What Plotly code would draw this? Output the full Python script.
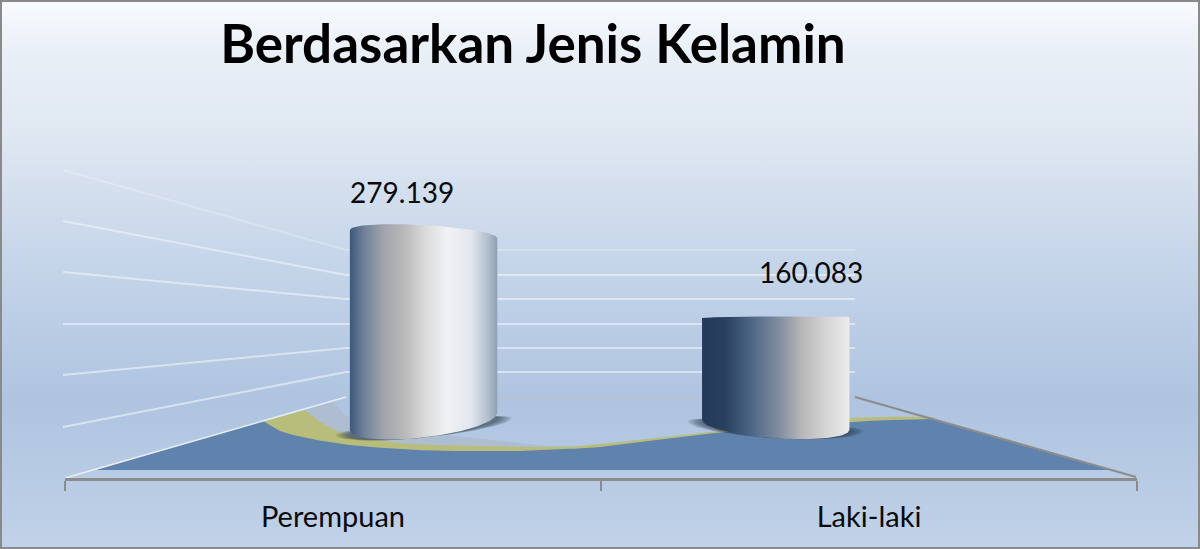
import numpy as np
import plotly.graph_objects as go

# data
categories = ['Perempuan', 'Laki-laki']
values = [279139, 160083]

# cylinder placement, axis units (perspective pulls them off the category centre)
cyl_pos = [0.169, 0.826]
label_pos = [0.129, 0.892]
cyl_width = 0.275

# px offsets of each cylinder outline: base shift, base depth, base skew, top depth, top skew
cyl_outline = [(0, 16, -8.5, 9, 4), (3.5, 13.3, 5, 1, -0.5)]
shadow_drop = [5, 1]
cyl_colors = [
    [[0, '#3d587b'], [0.09, '#6d7f98'], [0.22, '#9ea2aa'], [0.38, '#bbbbbb'], [0.5, '#d8d8d8'],
     [0.66, '#f1f2f4'], [0.82, '#e2e7ed'], [0.93, '#b5c1d0'], [1, '#8e9fb4']],
    [[0, '#253a5a'], [0.16, '#2a4060'], [0.34, '#4f6786'], [0.53, '#838fa0'], [0.68, '#b8b8b8'],
     [0.86, '#d8d8d8'], [1, '#ececec']],
]

# background wall / floor lines, px
wall_left_y = [170, 221, 272, 324, 375, 427]
wall_back_y = [250, 275, 299, 324, 348, 372]

gray_edge = [(333, 401), (340, 410), (350, 417), (400, 430), (467, 437), (517, 443), (550, 446), (600, 446)]
yellow_edge = [(305, 410), (317, 420), (333, 429), (350, 436), (367, 439), (400, 443), (433, 445),
               (483, 446), (550, 447), (600, 444), (715, 431), (851, 418), (933, 417)]
blue_edge = [(263, 421), (283, 432), (317, 440), (350, 445), (383, 448), (417, 450), (450, 451),
             (517, 451), (550, 449), (600, 447), (715, 433), (851, 422), (933, 419)]

bg_colors = [[0, '#f8fbfe'], [0.1, '#e9eff7'], [0.25, '#dfe7f2'], [0.45, '#c8d7ea'], [0.73, '#aec4e0'],
             [1, '#c1d2e8']]

PX = 279139 / 187.5  # value units per pixel
ZERO_PX = 421.5
AXIS_PX = 478
X0, X1 = 65, 1137


def smooth(points, n=12):
    # catmull-rom through the points
    p = np.array([points[0]] + list(points) + [points[-1]], dtype=float)
    out = []
    for i in range(1, len(p) - 2):
        for t in np.linspace(0, 1, n, endpoint=False):
            out.append(0.5 * (2 * p[i] + (p[i + 1] - p[i - 1]) * t
                              + (2 * p[i - 1] - 5 * p[i] + 4 * p[i + 1] - p[i + 2]) * t ** 2
                              + (3 * p[i] - p[i - 1] - 3 * p[i + 1] + p[i + 2]) * t ** 3))
    out.append(p[-2])
    return [tuple(q) for q in out]


def poly(points, color):
    xs, ys = zip(*points)
    return go.Scatter(x=xs, y=ys, mode='lines', fill='toself', fillcolor=color,
                      line=dict(width=0), xaxis='x', yaxis='y', hoverinfo='skip', showlegend=False)


def line(x, y, color, width):
    return go.Scatter(x=x, y=y, mode='lines', line=dict(color=color, width=width),
                      xaxis='x', yaxis='y', hoverinfo='skip', showlegend=False)


def cylinder(pos, value, outline):
    # outline in axis units, front edge bulges down, back edge up
    shift, base_d, base_s, top_d, top_s = outline
    t = np.linspace(-1, 1, 80)
    arc = np.sqrt(1 - t ** 2)
    top = value + (-shift - top_s * t + top_d * arc) * PX
    base = (-shift - base_s * t - base_d * arc) * PX
    x = pos + t * cyl_width / 2
    return np.r_[x, x[::-1], x[0]], np.r_[top, base[::-1], top[0]]


def base_shadow(pos, outline, drop, grow):
    # flat ellipse under the foot of a cylinder
    shift, base_d, base_s = outline[:3]
    t = np.linspace(-1, 1, 80)
    arc = np.sqrt(1 - t ** 2)
    mid = -shift - drop - base_s * t
    x = pos + t * cyl_width / 2 * (1 + grow)
    return np.r_[x, x[::-1], x[0]], np.r_[(mid + 6 * arc) * PX, ((mid - (base_d - drop) * arc) * PX)[::-1], (mid[0]) * PX]


fig = go.Figure()

# background
fig.add_trace(go.Scatter(x=[0, 1200, 1200, 0, 0], y=[0, 0, 549, 549, 0], mode='lines', fill='toself',
                         fillgradient=dict(type='vertical', colorscale=bg_colors, start=0, stop=549),
                         line=dict(width=0), xaxis='x', yaxis='y', hoverinfo='skip', showlegend=False))

# walls
for i, (yl, yb) in enumerate(zip(wall_left_y, wall_back_y)):
    col = 'rgba(238,243,249,0.35)' if i == 0 else 'rgba(236,241,248,0.65)'
    fig.add_trace(line([63, 346, 855], [yl, yb, yb], col, 2))
fig.add_trace(line([346, 855], [397, 397], '#bcc3c8', 1.5))

# floor
fig.add_trace(poly(smooth(gray_edge) + [(600, 452), (330, 452), (305, 410), (333, 401)], '#aebdd0'))
fig.add_trace(poly(smooth(yellow_edge) + [(1000, 470), (300, 470), (263, 421), (305, 410)], '#b9bd7c'))
fig.add_trace(poly([(96, 470)] + smooth(blue_edge) + [(1113, 470), (96, 470)], '#6083ae'))
fig.add_trace(line([65, 346], [478, 397], '#e6edf5', 1.5))
fig.add_trace(line([855, 1136], [397, 477], '#8c8c8c', 2))
fig.add_trace(line([0, 1200, 1200, 0, 0], [0, 0, 549, 549, 0], '#8a8a8a', 4))

# shadows, then cylinders
for pos, outline, drop in zip(cyl_pos, cyl_outline, shadow_drop):
    for grow in [0.2, 0.17, 0.14, 0.11, 0.08, 0.05, 0.02]:
        sx, sy = base_shadow(pos, outline, drop, grow)
        fig.add_trace(go.Scatter(x=sx, y=sy, mode='lines', fill='toself', fillcolor='rgba(45,55,75,0.12)',
                                 line=dict(width=0), xaxis='x2', yaxis='y2', hoverinfo='skip', showlegend=False))

for pos, val, outline, colors in zip(cyl_pos, values, cyl_outline, cyl_colors):
    cx, cy = cylinder(pos, val, outline)
    fig.add_trace(go.Scatter(x=cx, y=cy, mode='lines', fill='toself',
                             fillgradient=dict(type='horizontal', colorscale=colors),
                             line=dict(width=0), xaxis='x2', yaxis='y2', hoverinfo='skip', showlegend=False))

fig.add_trace(go.Scatter(x=label_pos, y=[v + 38 * PX for v in values], mode='text',
                         text=[f'{v:,}'.replace(',', '.') for v in values],
                         textposition='middle center', textfont=dict(size=28, color='#0a0a0a'),
                         xaxis='x2', yaxis='y2', hoverinfo='skip', showlegend=False, cliponaxis=False))

fig.update_layout(
    width=1200, height=549,
    margin=dict(l=0, r=0, t=0, b=0),
    paper_bgcolor='#c2d3e9', plot_bgcolor='rgba(0,0,0,0)',
    font=dict(family='Lato', color='#0a0a0a'),
    showlegend=False, hovermode=False,
    title=dict(text='<b>Berdasarkan Jenis Kelamin</b>', x=533 / 1200, xanchor='center',
               y=1 - 44 / 549, yanchor='middle', font=dict(size=53, color='#000000')),
    xaxis=dict(domain=[0, 1], range=[0, 1200], visible=False, fixedrange=True),
    yaxis=dict(domain=[0, 1], range=[549, 0], visible=False, fixedrange=True),
    xaxis2=dict(domain=[X0 / 1200, X1 / 1200], range=[-0.5, 1.5], anchor='y2', fixedrange=True,
                tickmode='array', tickvals=[0, 1], ticktext=categories, ticks='', ticklabelstandoff=11,
                tickfont=dict(size=29, color='#0a0a0a'), showgrid=False, zeroline=False,
                showline=True, linecolor='#8c8c8c', linewidth=3,
                minor=dict(tickmode='array', tickvals=[-0.5, 0.5, 1.5], ticks='outside', ticklen=10,
                           tickcolor='#8c8c8c', tickwidth=2, showgrid=False)),
    yaxis2=dict(domain=[1 - AXIS_PX / 549, 1], range=[(ZERO_PX - AXIS_PX) * PX, ZERO_PX * PX], anchor='x2',
                visible=False, fixedrange=True),
)

fig.write_html('out.html', config=dict(displayModeBar=False), post_script="document.body.style.margin='0';")
